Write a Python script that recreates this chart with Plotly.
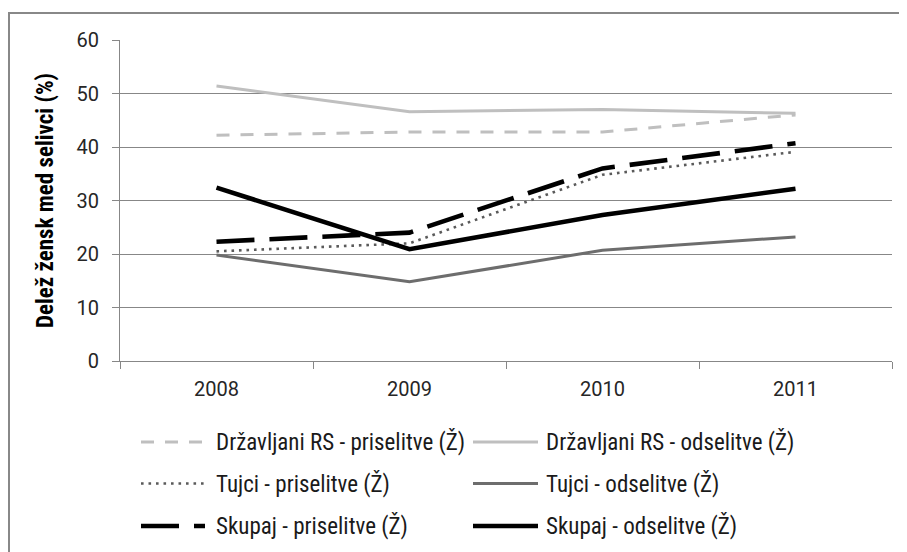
import plotly.graph_objects as go

years = ["2008", "2009", "2010", "2011"]

drs_priselitve = [42.2, 42.8, 42.8, 46.0]
drs_odselitve = [51.4, 46.6, 47.0, 46.3]
tujci_priselitve = [20.5, 22.0, 34.8, 39.1]
tujci_odselitve = [19.8, 14.8, 20.7, 23.2]
skupaj_priselitve = [22.3, 24.0, 36.0, 40.7]
skupaj_odselitve = [32.4, 20.9, 27.3, 32.2]

series_names = [
    "Državljani RS - priselitve (Ž)",
    "Državljani RS - odselitve (Ž)",
    "Tujci - priselitve (Ž)",
    "Tujci - odselitve (Ž)",
    "Skupaj - priselitve (Ž)",
    "Skupaj - odselitve (Ž)",
]
series_values = [drs_priselitve, drs_odselitve, tujci_priselitve,
                 tujci_odselitve, skupaj_priselitve, skupaj_odselitve]

y_title = "Delež žensk med selivci (%)"
y_ticks = [0, 10, 20, 30, 40, 50, 60]

# styles
styles = [
    dict(color="#BFBFBF", width=3, dash="13px,11px"),
    dict(color="#BFBFBF", width=3, dash="solid"),
    dict(color="#5A5A5A", width=2.6, dash="2.6px,4.9px"),
    dict(color="#6D6D6D", width=3, dash="solid"),
    dict(color="#000000", width=4.6, dash="38px,15px"),
    dict(color="#000000", width=4.6, dash="solid"),
]

W, H = 907, 552
OFF = 8  # page offset of the figure (body margin)
ML, MR, MT, MB = 112, 23, 32, 199
PW = W - ML - MR
PH = H - MT - MB


def px2x(px):
    return (px - OFF - ML) / PW


def py2y(py):
    return (H - MB - (py - OFF)) / PH


NARROW = "Liberation Sans Narrow, Arial Narrow, Roboto Condensed, sans-serif"
TICKFONT = "Roboto, Open Sans, sans-serif"
GRID = "#878787"

fig = go.Figure()
for name, vals, st in zip(series_names, series_values, styles):
    fig.add_trace(go.Scatter(
        x=years, y=vals, name=name, mode="lines",
        line=dict(color=st["color"], width=st["width"], dash=st["dash"]),
        showlegend=False, hoverinfo="skip",
    ))

# chart border
fig.add_shape(type="rect", xref="paper", yref="paper",
              x0=px2x(9), x1=px2x(960), y0=py2y(620), y1=py2y(13),
              line=dict(color="#888888", width=2), layer="below")

# manual legend (two columns, three rows)
col_sample = [(141, 205), (473, 538)]
col_text = [214, 544]
row_y = [442, 483.5, 526]
for i, (name, st) in enumerate(zip(series_names, styles)):
    r, c = divmod(i, 2)
    y = py2y(row_y[r])
    fig.add_shape(type="line", xref="paper", yref="paper",
                  x0=px2x(col_sample[c][0]), x1=px2x(col_sample[c][1]),
                  y0=y, y1=y,
                  line=dict(color=st["color"], width=st["width"], dash=st["dash"]))
    fig.add_annotation(xref="paper", yref="paper", x=px2x(col_text[c]), y=y,
                       text=name, showarrow=False, xanchor="left", yanchor="middle",
                       font=dict(family=NARROW, size=23, color="#1A1A1A"))

fig.update_layout(
    width=W, height=H,
    margin=dict(l=ML, r=MR, t=MT, b=MB, pad=0, autoexpand=False),
    paper_bgcolor="white", plot_bgcolor="white",
    showlegend=False,
    xaxis=dict(
        type="category", categoryorder="array", categoryarray=years,
        range=[-0.5, 3.5], showgrid=False, zeroline=False,
        showline=True, linecolor=GRID, linewidth=1,
        ticks="outside", ticklen=7, tickcolor=GRID, tickson="boundaries",
        tickfont=dict(family=TICKFONT, size=20, color="#262626"),
        ticklabelstandoff=10,
    ),
    yaxis=dict(
        range=[0, 60], tickvals=y_ticks, showgrid=True, gridcolor=GRID, gridwidth=1,
        zeroline=False, showline=True, linecolor=GRID, linewidth=1,
        ticks="outside", ticklen=7, tickcolor=GRID,
        tickfont=dict(family=TICKFONT, size=20, color="#262626"),
        ticklabelstandoff=9,
        title=dict(text="<b>" + y_title + "</b>", standoff=16,
                   font=dict(family=NARROW, size=23, color="#000000")),
    ),
)

fig.write_html("out.html")
